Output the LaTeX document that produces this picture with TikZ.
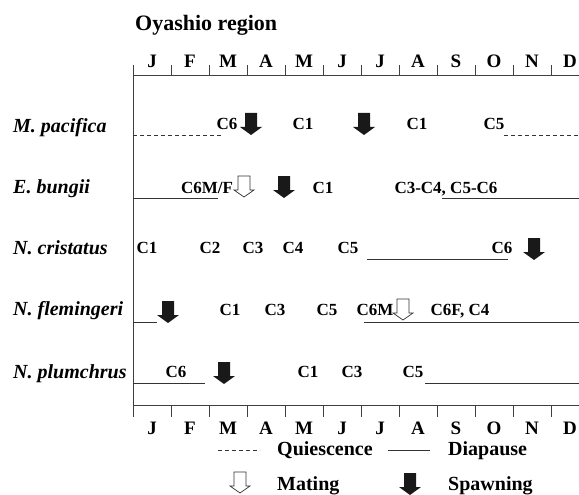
\documentclass[tikz,border=0pt]{standalone}
\usepackage{fontspec}
\setmainfont{Liberation Serif}
\usetikzlibrary{positioning}
\tikzset{
    stage/.style={font=\fontsize{17}{17}\selectfont\bfseries, inner sep=0pt, anchor=base},
    species/.style={font=\fontsize{20}{20}\selectfont\bfseries\itshape, inner sep=0pt, anchor=base west},
    month/.style={font=\fontsize{19}{19}\selectfont\bfseries, inner sep=0pt, anchor=base},
    legendlbl/.style={font=\fontsize{20}{20}\selectfont\bfseries, inner sep=0pt, anchor=base west},
    axisline/.style={line width=0.8pt, draw=black!75},
    diapause/.style={line width=0.8pt, draw=black!80},
    quiescence/.style={line width=0.8pt, draw=black!80, dash pattern=on 4pt off 3pt},
    pics/spawnarrow/.style={code={
        \fill[black!90] (-6,0) -- (6,0) -- (6,14) -- (11,14) -- (0,22) -- (-11,14) -- (-6,14) -- cycle;}},
    pics/matingarrow/.style={code={
        \draw[line width=0.7pt, black!80, fill=white] (-6,0) -- (6,0) -- (6,14) -- (10,14) -- (0,21) -- (-10,14) -- (-6,14) -- cycle;}},
}

\begin{document}
\begin{tikzpicture}[x=1pt, y=-1pt]
    \useasboundingbox (0,0) rectangle (579,495);
    \node[font=\fontsize{22}{22}\selectfont\bfseries, inner sep=0pt, anchor=base west] (title) at (135,31) {Oyashio region};

    % axes
    \draw[axisline] (133,65) -- (133,417);
    \draw[axisline] (133,75) -- (579,75);
    \draw[axisline] (133,405) -- (579,405);
    \foreach \i in {0,...,11} {
        \draw[axisline] ({133+38*\i},65) -- ({133+38*\i},75);
        \draw[axisline] ({133+38*\i},405) -- ({133+38*\i},417);
    }
    \foreach \m [count=\i from 0] in {J,F,M,A,M,J,J,A,S,O,N,D} {
        \node[month] (top\i) at ({152+38*\i},68) {\m};
        \node[month] (bot\i) at ({152+38*\i},434) {\m};
    }

    % species
    \node[species] (mpac) at (13,132) {M. pacifica};
    \node[species] (ebun) at (13,193) {E. bungii};
    \node[species] (ncri) at (13,254) {N. cristatus};
    \node[species] (nfle) at (13,315) {N. flemingeri};
    \node[species] (nplu) at (13,378) {N. plumchrus};

    % M. pacifica
    \draw[quiescence] (133,135) -- (222,135);
    \draw[quiescence] (504,135) -- (579,135);
    \node[stage] (mp1) at (227,129) {C6};
    \node[stage] (mp2) at (303,129) {C1};
    \node[stage] (mp3) at (417,129) {C1};
    \node[stage] (mp4) at (494,129) {C5};
    \pic at (251,113) {spawnarrow};
    \pic at (364,113) {spawnarrow};

    % E. bungii
    \draw[diapause] (133,198) -- (218,198);
    \draw[diapause] (442,198) -- (579,198);
    \node[stage] (eb1) at (207,193) {C6M/F};
    \node[stage] (eb2) at (323,193) {C1};
    \node[stage] (eb3) at (446,193) {C3-C4, C5-C6};
    \pic at (244,176) {matingarrow};
    \pic at (284,176) {spawnarrow};

    % N. cristatus
    \draw[diapause] (367,259) -- (508,259);
    \node[stage] (nc1) at (147,253) {C1};
    \node[stage] (nc2) at (210,253) {C2};
    \node[stage] (nc3) at (253,253) {C3};
    \node[stage] (nc4) at (293,253) {C4};
    \node[stage] (nc5) at (348,253) {C5};
    \node[stage] (nc6) at (502,253) {C6};
    \pic at (534,238) {spawnarrow};

    % N. flemingeri
    \draw[diapause] (133,322) -- (157,322);
    \draw[diapause] (364,322) -- (579,322);
    \node[stage] (nf1) at (230,315) {C1};
    \node[stage] (nf2) at (275,315) {C3};
    \node[stage] (nf3) at (327,315) {C5};
    \node[stage] (nf4) at (375,315) {C6M};
    \node[stage] (nf5) at (460,315) {C6F, C4};
    \pic at (168,301) {spawnarrow};
    \pic at (403,299) {matingarrow};

    % N. plumchrus
    \draw[diapause] (133,383) -- (205,383);
    \draw[diapause] (425,383) -- (579,383);
    \node[stage] (np1) at (176,377) {C6};
    \node[stage] (np2) at (308,377) {C1};
    \node[stage] (np3) at (352,377) {C3};
    \node[stage] (np4) at (413,377) {C5};
    \pic at (224,362) {spawnarrow};

    % legend
    \draw[quiescence] (218,450) -- (260,450);
    \node[legendlbl] (lq) at (277,455) {Quiescence};
    \draw[diapause] (388,450) -- (430,450);
    \node[legendlbl] (ld) at (448,455) {Diapause};
    \pic at (240,472) {matingarrow};
    \node[legendlbl] (lm) at (277,490) {Mating};
    \pic at (410,473) {spawnarrow};
    \node[legendlbl] (ls) at (448,490) {Spawning};
\end{tikzpicture}
\end{document}
